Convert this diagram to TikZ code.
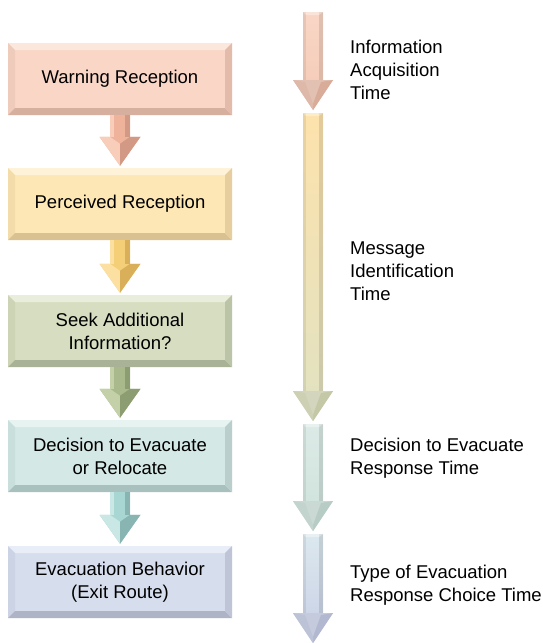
\documentclass[tikz,border=0pt]{standalone}
\usepackage{fontspec}
\setmainfont{Liberation Sans}
\usetikzlibrary{calc}

% box colours: main, top, left, bottom, right
\definecolor{warnM}{HTML}{FAD6C7}\definecolor{warnT}{HTML}{FCE7DC}\definecolor{warnL}{HTML}{EFCBBB}\definecolor{warnB}{HTML}{D7AF9F}\definecolor{warnR}{HTML}{E2BBAB}
\definecolor{percM}{HTML}{FDE7B5}\definecolor{percT}{HTML}{FEF3D8}\definecolor{percL}{HTML}{F3DCA9}\definecolor{percB}{HTML}{D9C191}\definecolor{percR}{HTML}{E6CE9E}
\definecolor{seekM}{HTML}{D6DDC0}\definecolor{seekT}{HTML}{E9EEDC}\definecolor{seekL}{HTML}{CCD4B5}\definecolor{seekB}{HTML}{A9B197}\definecolor{seekR}{HTML}{BCC4A7}
\definecolor{decM}{HTML}{D4E8E5}\definecolor{decT}{HTML}{E7F3F1}\definecolor{decL}{HTML}{C9DFDC}\definecolor{decB}{HTML}{A9C1BE}\definecolor{decR}{HTML}{BACFCC}
\definecolor{behM}{HTML}{D6DDED}\definecolor{behT}{HTML}{E8EDF7}\definecolor{behL}{HTML}{CCD3E4}\definecolor{behB}{HTML}{AEB3C6}\definecolor{behR}{HTML}{BFC4D6}
% flow arrow colours
\definecolor{salM}{HTML}{EFB29A}\definecolor{salL}{HTML}{F8CDBA}\definecolor{salD}{HTML}{D29A84}
\definecolor{golM}{HTML}{F5CE78}\definecolor{golL}{HTML}{FBE0A2}\definecolor{golD}{HTML}{D9AF5A}
\definecolor{oliM}{HTML}{A9B98C}\definecolor{oliL}{HTML}{C4D0A8}\definecolor{oliD}{HTML}{8D9D72}
\definecolor{teaM}{HTML}{A8D6D2}\definecolor{teaL}{HTML}{C9E7E4}\definecolor{teaD}{HTML}{88B5B1}
% time line colours: shaft top, shaft bottom, head
\definecolor{acqT}{HTML}{F8D6C6}\definecolor{acqB}{HTML}{F6CDBA}\definecolor{acqH}{HTML}{D8AC98}
\definecolor{idT}{HTML}{FDE2AC}\definecolor{idB}{HTML}{E3E2C0}\definecolor{idH}{HTML}{C4C8A6}
\definecolor{resT}{HTML}{DCEAE6}\definecolor{resB}{HTML}{D2E4DE}\definecolor{resH}{HTML}{B8CCC6}
\definecolor{choT}{HTML}{DCE8EE}\definecolor{choB}{HTML}{CDD6E8}\definecolor{choH}{HTML}{B2B8D0}

\newcommand\bevelfill[5]{%
  \fill[#1] (path picture bounding box.north west) rectangle (path picture bounding box.south east);
  \fill[#2] (path picture bounding box.north west) -- (path picture bounding box.north east)
    -- ([shift={(-7pt,-7pt)}]path picture bounding box.north east) -- ([shift={(7pt,-7pt)}]path picture bounding box.north west) -- cycle;
  \fill[#3] (path picture bounding box.north west) -- ([shift={(7pt,-7pt)}]path picture bounding box.north west)
    -- ([shift={(7pt,7pt)}]path picture bounding box.south west) -- (path picture bounding box.south west) -- cycle;
  \fill[#4] (path picture bounding box.south west) -- ([shift={(7pt,7pt)}]path picture bounding box.south west)
    -- ([shift={(-7pt,7pt)}]path picture bounding box.south east) -- (path picture bounding box.south east) -- cycle;
  \fill[#5] (path picture bounding box.south east) -- ([shift={(-7pt,7pt)}]path picture bounding box.south east)
    -- ([shift={(-7pt,-7pt)}]path picture bounding box.north east) -- (path picture bounding box.north east) -- cycle;
}

% block arrow between two boxes
\newcommand\flowarrow[5]{%
  \fill[#3] ([xshift=-10pt]#1.south) -- ([xshift=10pt]#1.south) -- ([shift={(10pt,31pt)}]#2.north)
    -- ([shift={(20.5pt,31pt)}]#2.north) -- ([yshift=2pt]#2.north) -- ([shift={(-20.5pt,31pt)}]#2.north)
    -- ([shift={(-10pt,31pt)}]#2.north) -- cycle;
  \fill[#4] ([xshift=-10pt]#1.south) -- ([xshift=-6pt]#1.south) -- ([shift={(-6pt,31pt)}]#2.north) -- ([shift={(-10pt,31pt)}]#2.north) -- cycle;
  \fill[#5] ([xshift=5pt]#1.south) -- ([xshift=10pt]#1.south) -- ([shift={(10pt,31pt)}]#2.north) -- ([shift={(5pt,31pt)}]#2.north) -- cycle;
  \fill[#4] ([shift={(-20.5pt,31pt)}]#2.north) -- ([shift={(-10pt,31pt)}]#2.north) -- ([shift={(0pt,24pt)}]#2.north) -- ([yshift=2pt]#2.north) -- cycle;
  \fill[#5] ([shift={(20.5pt,31pt)}]#2.north) -- ([shift={(10pt,31pt)}]#2.north) -- ([shift={(0pt,24pt)}]#2.north) -- ([yshift=2pt]#2.north) -- cycle;
}

% timeline arrow from a top coordinate to a tip coordinate
\newcommand\timearrow[5]{%
  \shade[top color=#3, bottom color=#4] ([xshift=-10pt]#1) rectangle ([shift={(10pt,30pt)}]#2);
  \fill[black, opacity=.07] ([xshift=-10pt]#1) rectangle ([shift={(-7pt,30pt)}]#2);
  \fill[black, opacity=.10] ([xshift=6pt]#1) rectangle ([shift={(10pt,30pt)}]#2);
  \fill[white, opacity=.35] ([xshift=-10pt]#1) -- ([xshift=10pt]#1) -- ([shift={(6pt,-3pt)}]#1) -- ([shift={(-7pt,-3pt)}]#1) -- cycle;
  \fill[#5!75!white] ([shift={(-20pt,30pt)}]#2) -- ([shift={(20pt,30pt)}]#2) -- (#2) -- cycle;
  \fill[#5] ([shift={(20pt,30pt)}]#2) -- ([shift={(8pt,28pt)}]#2) -- ([shift={(0pt,6pt)}]#2) -- (#2) -- cycle;
  \fill[#5!85!white] ([shift={(-20pt,30pt)}]#2) -- ([shift={(-8pt,28pt)}]#2) -- ([shift={(0pt,6pt)}]#2) -- (#2) -- cycle;
}

\tikzset{
  stagebox/.style n args={5}{minimum width=224pt, minimum height=72pt, inner sep=0pt, align=center,
    font=\fontsize{18.5}{23}\selectfont, path picture={\bevelfill{#1}{#2}{#3}{#4}{#5}}},
  timelabel/.style={anchor=west, align=left, inner sep=0pt, font=\fontsize{18.5}{23}\selectfont},
}

\begin{document}
\begin{tikzpicture}[x=1pt,y=-1pt]
  \useasboundingbox[fill=white] (0,0) rectangle (543,643);

  % stages
  \node[stagebox={warnM}{warnT}{warnL}{warnB}{warnR}] (warn) at (120,79) {Warning Reception};
  \node[stagebox={percM}{percT}{percL}{percB}{percR}] (perc) at (120,204) {Perceived Reception};
  \node[stagebox={seekM}{seekT}{seekL}{seekB}{seekR}] (seek) at (120,331) {Seek Additional\\Information?};
  \node[stagebox={decM}{decT}{decL}{decB}{decR}] (dec) at (120,456) {Decision to Evacuate\\or Relocate};
  \node[stagebox={behM}{behT}{behL}{behB}{behR}] (beh) at (120,582) {Evacuation Behavior\\(Exit Route)};

  \flowarrow{warn}{perc}{salM}{salL}{salD}
  \flowarrow{perc}{seek}{golM}{golL}{golD}
  \flowarrow{seek}{dec}{oliM}{oliL}{oliD}
  \flowarrow{dec}{beh}{teaM}{teaL}{teaD}

  % time line
  \coordinate (top1) at (313,12);  \coordinate (tip1) at (313,110);
  \coordinate (top2) at (313,113); \coordinate (tip2) at (313,421);
  \coordinate (top3) at (313,424); \coordinate (tip3) at (313,531);
  \coordinate (top4) at (313,534); \coordinate (tip4) at (313,643);

  \timearrow{top1}{tip1}{acqT}{acqB}{acqH}
  \timearrow{top2}{tip2}{idT}{idB}{idH}
  \timearrow{top3}{tip3}{resT}{resB}{resH}
  \timearrow{top4}{tip4}{choT}{choB}{choH}

  \node[timelabel] (acq) at (350,70) {Information\\Acquisition\\Time};
  \node[timelabel] (ident) at (350,271) {Message\\Identification\\Time};
  \node[timelabel] (resp) at (350,458) {Decision to Evacuate\\Response Time};
  \node[timelabel] (choice) at (350,585) {Type of Evacuation\\Response Choice Time};
\end{tikzpicture}
\end{document}
